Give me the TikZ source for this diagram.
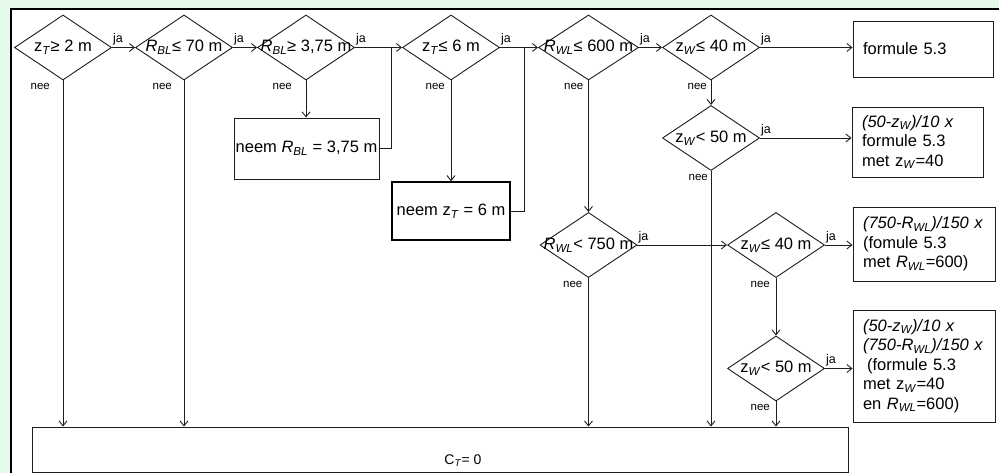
\documentclass[tikz,border=0pt]{standalone}
\usepackage{fontspec}
\setmainfont{Liberation Sans}
\usetikzlibrary{shapes.geometric,arrows.meta}
\definecolor{bggreen}{RGB}{230,250,234}
\definecolor{ln}{RGB}{30,30,30}
\newcommand{\ssub}[1]{\textsubscript{\textit{#1}}}
\newcommand{\dtext}[1]{\makebox[0pt]{#1}}
\begin{document}
\begin{tikzpicture}[x=1pt,y=-1pt,
  dia/.style={draw=ln,line width=0.9pt,shape=diamond,inner sep=0pt,
    minimum width=97pt,minimum height=65pt,font=\fontsize{16.5}{19}\selectfont},
  box/.style={draw=ln,line width=0.9pt,rectangle,inner xsep=10pt,inner ysep=0pt,
    font=\fontsize{16.5}{19.5}\selectfont,align=left},
  cbox/.style={draw=ln,line width=0.9pt,rectangle,inner sep=0pt,
    font=\fontsize{16.5}{19}\selectfont,align=center},
  conn/.style={draw=ln,line width=0.9pt},
  arr/.style={conn,-{Straight Barb[length=5pt,width=8pt]}},
  ja/.style={font=\fontsize{12.5}{13}\selectfont,inner sep=1pt,anchor=south west,yshift=1pt},
  nee/.style={font=\fontsize{11.5}{12}\selectfont,inner sep=1pt,anchor=north east,yshift=-2pt}]
\useasboundingbox (0,0) rectangle (999,473);
\fill[bggreen] (0,0) rectangle (999,473);
\fill[white] (11,9) rectangle (999,473);
\draw[line width=2pt,black] (11,473) -- (11,9) -- (999,9);

% diamonds
\node[dia] (d1) at (63,47.5) {\dtext{z\ssub{T}≥ 2 m}};
\node[dia] (d2) at (184,47.5) {\dtext{\textit{R}\ssub{BL}≤ 70 m}};
\node[dia] (d3) at (306,47.5) {\dtext{\textit{R}\ssub{BL}≥ 3,75 m}};
\node[dia] (d4) at (451,47.5) {\dtext{z\ssub{T}≤ 6 m}};
\node[dia,minimum width=100pt] (d5) at (588.5,47.5) {\dtext{\textit{R}\ssub{WL}≤ 600 m}};
\node[dia] (d6) at (711,47.5) {\dtext{z\ssub{W}≤ 40 m}};
\node[dia] (d7) at (711,138) {\dtext{z\ssub{W}< 50 m}};
\node[dia] (d8) at (588.5,245) {\dtext{\textit{R}\ssub{WL}< 750 m}};
\node[dia] (d9) at (776,245) {\dtext{z\ssub{W}≤ 40 m}};
\node[dia] (d10) at (776,368.5) {\dtext{z\ssub{W}< 50 m}};

% boxes
\node[box,minimum width=140pt,minimum height=56pt,text width=120pt] (b1) at (923,49) {formule 5.3};
\node[box,minimum width=131pt,minimum height=70pt,text width=111pt] (b2) at (917.5,142)
  {\textit{(50-z\textsubscript{W})/10 x}\\formule 5.3\\met z\ssub{W}=40};
\node[box,minimum width=142pt,minimum height=74pt,text width=122pt] (b3) at (924,244)
  {\textit{(750-R\textsubscript{WL})/150 x}\\(fomule 5.3\\met \textit{R}\ssub{WL}=600)};
\node[box,minimum width=142pt,minimum height=112pt,text width=122pt] (b4) at (924,366)
  {\textit{(50-z\textsubscript{W})/10 x}\\\textit{(750-R\textsubscript{WL})/150 x}\\\hspace*{4pt}(formule 5.3\\met z\ssub{W}=40\\en \textit{R}\ssub{WL}=600)};
\node[cbox,minimum width=145pt,minimum height=61pt] (n1) at (306.5,148.5) {neem \textit{R}\ssub{BL} = 3,75 m};
\node[cbox,line width=1.5pt,draw=black,minimum width=118pt,minimum height=58pt] (n2) at (451,211) {neem z\ssub{T} = 6 m};
\node[cbox,minimum width=816pt,minimum height=45pt] (c) at (440,449.5) {};
\node[font=\fontsize{14}{16}\selectfont,inner sep=0pt] (ct) at (463,461) {C\ssub{T}= 0};

\coordinate (j1) at (391,47.5);
\coordinate (j2) at (524,47.5);

% connectors
\draw[arr] (d1.east) -- (d2.west);
\draw[arr] (d2.east) -- (d3.west);
\draw[arr] (d3.east) -- (d4.west);
\draw[arr] (d4.east) -- (d5.west);
\draw[arr] (d5.east) -- (d6.west);
\draw[arr] (d6.east) -- (d6.east -| b1.west);
\draw[arr] (d6.south) -- (d7.north);
\draw[arr] (d7.east) -- (d7.east -| b2.west);
\draw[arr] (d7.south) -- (d7.south |- c.north);
\draw[arr] (d1.south) -- (d1.south |- c.north);
\draw[arr] (d2.south) -- (d2.south |- c.north);
\draw[arr] (d3.south) -- (d3.south |- n1.north);
\draw[conn] (n1.east) -| (j1);
\draw[arr] (d4.south) -- (d4.south |- n2.north);
\draw[conn] (n2.east) -| (j2);
\draw[arr] (d5.south) -- (d8.north);
\draw[arr] (d8.east) -- (d9.west);
\draw[arr] (d8.south) -- (d8.south |- c.north);
\draw[arr] (d9.east) -- (d9.east -| b3.west);
\draw[arr] (d9.south) -- (d10.north);
\draw[arr] (d10.east) -- (d10.east -| b4.west);
\draw[arr] (d10.south) -- (d10.south |- c.north);

% labels
\node[ja] (ja1) at (d1.east) {ja};
\node[ja] (ja2) at (d2.east) {ja};
\node[ja] (ja3) at (d3.east) {ja};
\node[ja] (ja4) at (d4.east) {ja};
\node[ja] (ja5) at (d5.east) {ja};
\node[ja] (ja6) at (d6.east) {ja};
\node[ja] (ja7) at (d7.east) {ja};
\node[ja] (ja8) at (d8.east) {ja};
\node[ja] (ja9) at (d9.east) {ja};
\node[ja] (ja10) at (d10.east) {ja};
\node[nee,xshift=-12pt] (nee1) at (d1.south) {nee};
\node[nee,xshift=-11pt] (nee2) at (d2.south) {nee};
\node[nee,xshift=-13pt] (nee3) at (d3.south) {nee};
\node[nee,xshift=-5pt] (nee4) at (d4.south) {nee};
\node[nee,xshift=-4pt] (nee5) at (d5.south) {nee};
\node[nee,xshift=-3pt] (nee6) at (d6.south) {nee};
\node[nee,xshift=-2pt] (nee7) at (d7.south) {nee};
\node[nee,xshift=-5pt] (nee8) at (d8.south) {nee};
\node[nee,xshift=-5pt] (nee9) at (d9.south) {nee};
\node[nee,xshift=-5pt] (nee10) at (d10.south) {nee};
\end{tikzpicture}
\end{document}
